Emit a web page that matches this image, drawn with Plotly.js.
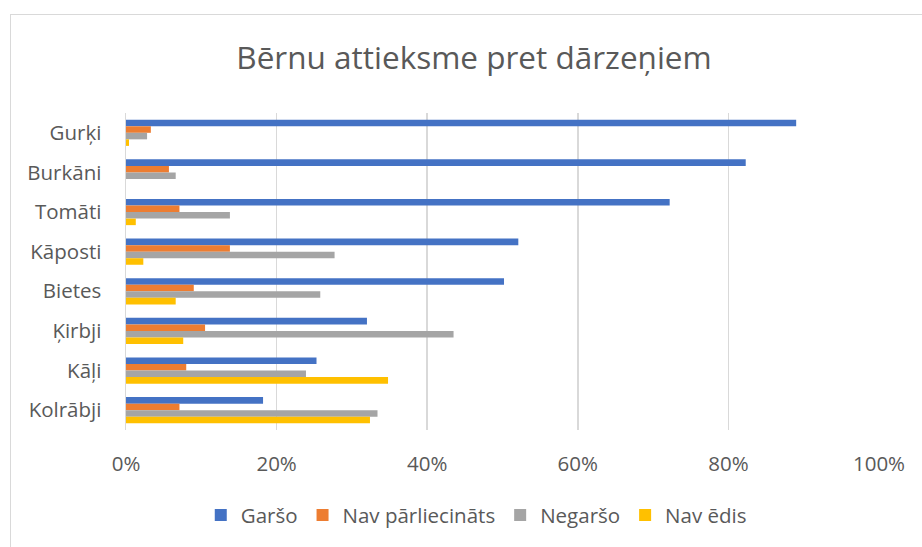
<!DOCTYPE html>
<html><head><meta charset="utf-8">
<script src="https://cdn.plot.ly/plotly-3.0.1.min.js"></script>
<style>
html,body{margin:0;padding:0;background:#fff;}
#frame{position:absolute;left:10px;top:14px;width:930px;height:560px;border:1px solid #d9d9d9;}
#chart{position:absolute;left:0;top:0;width:922px;height:547px;}
</style></head>
<body>
<div id="frame"></div>
<div id="chart"></div>
<script>
const categories = ["Gurķi","Burkāni","Tomāti","Kāposti","Bietes","Ķirbji","Kāļi","Kolrābji"];
const seriesNames = ["Garšo","Nav pārliecināts","Negaršo","Nav ēdis"];
const garso = [0.890,0.823,0.722,0.521,0.502,0.320,0.253,0.182];
const navParliecinats = [0.033,0.057,0.071,0.138,0.090,0.105,0.080,0.071];
const negarso = [0.028,0.066,0.138,0.277,0.258,0.435,0.239,0.334];
const navEdis = [0.004,0.0,0.013,0.023,0.066,0.076,0.348,0.324];
const colors = ["#4472C4","#ED7D31","#A5A5A5","#FFC000"];
const values = [garso,navParliecinats,negarso,navEdis];

const traces = values.map((v,i)=>({
  type:'bar', orientation:'h', name:seriesNames[i], x:v, y:categories,
  marker:{color:colors[i]}, hoverinfo:'x+y'
}));

const font = "'Open Sans', sans-serif";
const fs = 20.5;
const layout = {
  width:922, height:547,
  paper_bgcolor:'rgba(0,0,0,0)', plot_bgcolor:'rgba(0,0,0,0)',
  margin:{l:125.5,r:43,t:113,b:114},
  barmode:'group', bargap:0.34, bargroupgap:0,
  font:{family:font,color:'#595959',size:fs},
  title:{text:'Bērnu attieksme pret dārzeņiem', font:{family:font,size:31.5,color:'#595959'},
         x:474/922, xref:'container', xanchor:'center', y:1-58/547, yref:'container', yanchor:'middle'},
  xaxis:{range:[0,1], dtick:0.2, tick0:0, tickformat:'.0%', showgrid:true, gridcolor:'#d9d9d9', gridwidth:1.5,
         zeroline:false, showline:false, ticks:'outside', ticklen:15, tickcolor:'rgba(0,0,0,0)',
         tickfont:{family:font,size:fs,color:'#595959'}, fixedrange:true},
  yaxis:{autorange:'reversed', showline:true, linecolor:'#d9d9d9', linewidth:1.5, showgrid:false,
         ticks:'outside', ticklen:19, tickcolor:'rgba(0,0,0,0)',
         tickfont:{family:font,size:fs,color:'#595959'}, fixedrange:true},
  legend:{orientation:'h', x:(476-125.5)/753.5, xanchor:'center', y:(433-519)/320, yanchor:'middle',
          font:{family:font,size:fs,color:'#595959'}, itemwidth:30, traceorder:'normal'},
  showlegend:true
};
Plotly.newPlot('chart', traces, layout, {displayModeBar:false, staticPlot:true});
</script>
</body></html>
